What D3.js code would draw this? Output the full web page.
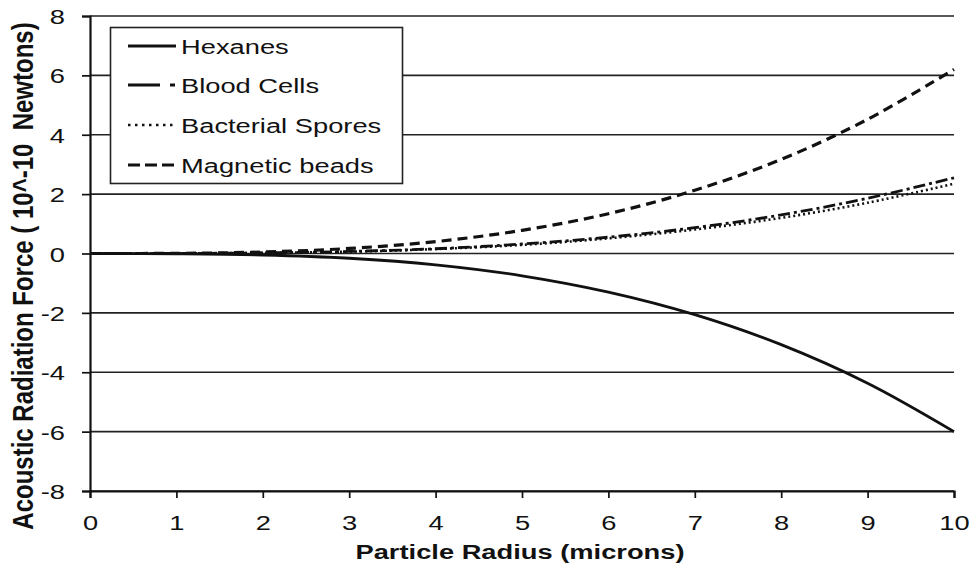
<!DOCTYPE html>
<html>
<head>
<meta charset="utf-8">
<script src="https://cdn.jsdelivr.net/npm/d3@7"></script>
<style>
  body { margin: 0; background: #fff; }
  text { font-family: "Liberation Sans", Arial, sans-serif; fill: #111; }
</style>
</head>
<body>
<script>
// particle radius (microns)
var radius = [0, 1, 2, 3, 4, 5, 6, 7, 8, 9, 10];
// force values, 10^-10 N
var hexanes = [0, -0.01, -0.05, -0.16, -0.38, -0.75, -1.30, -2.06, -3.07, -4.37, -6.0];
var bloodCells = [0, 0.003, 0.02, 0.07, 0.16, 0.32, 0.55, 0.87, 1.30, 1.86, 2.55];
var bacterialSpores = [0, 0.002, 0.02, 0.06, 0.15, 0.29, 0.51, 0.81, 1.20, 1.71, 2.35];
var magneticBeads = [0, 0.006, 0.05, 0.17, 0.40, 0.78, 1.34, 2.13, 3.17, 4.52, 6.2];
var xTicks = [0, 1, 2, 3, 4, 5, 6, 7, 8, 9, 10];
var yTicks = [-8, -6, -4, -2, 0, 2, 4, 6, 8];

var seriesNames = ['Hexanes', 'Blood Cells', 'Bacterial Spores', 'Magnetic beads'];
var seriesValues = [hexanes, bloodCells, bacterialSpores, magneticBeads];
var seriesDash = [null, '12,4,3,4', '2,3', '10,6'];
var legendDash = [null, '32,10,5,10', '2.5,4.5', '12,5'];
var seriesWidth = [2.8, 2.8, 2.6, 3.2];

// the source picture is stretched sideways, so text is widened too
var STRETCH = 1.3;

var svg;
var x, y;

window.document.addEventListener('DOMContentLoaded', init, false);

function init() {
    svg = d3.select('body').append('svg')
        .attr('width', 972)
        .attr('height', 569);

    x = d3.scaleLinear().domain([0, 10]).range([90, 954]);
    y = d3.scaleLinear().domain([-8, 8]).range([491, 16]);

    drawGrid();
    drawAxes();
    drawLines();
    drawLegend();
}

function drawGrid() {
    svg.append('g').selectAll('line')
        .data(yTicks)
        .enter().append('line')
        .attr('x1', x(0))
        .attr('x2', x(10))
        .attr('y1', function (d) { return y(d); })
        .attr('y2', function (d) { return y(d); })
        .attr('stroke', '#222')
        .attr('stroke-width', 1.7);
}

function drawAxes() {
    var yAxis = svg.append('g')
        .attr('transform', 'translate(' + x(0) + ',0)')
        .call(d3.axisLeft(y).tickValues(yTicks).tickSize(8).tickFormat(String));
    var xAxis = svg.append('g')
        .attr('transform', 'translate(0,' + y(-8) + ')')
        .call(d3.axisBottom(x).tickValues(xTicks).tickSize(7).tickFormat(String));

    [yAxis, xAxis].forEach(function (g) {
        g.select('.domain').attr('stroke', '#111').attr('stroke-width', 2.2);
        g.selectAll('.tick line').attr('stroke', '#111').attr('stroke-width', 1.7);
        g.selectAll('.tick text')
            .style('font-family', '"Liberation Sans", Arial, sans-serif')
            .style('font-size', '21px')
            .attr('fill', '#111');
    });

    yAxis.selectAll('.tick text')
        .attr('x', 0)
        .attr('dy', '0.36em')
        .attr('transform', 'translate(-25,0) scale(' + STRETCH + ',1)');
    xAxis.selectAll('.tick text')
        .attr('y', 0)
        .attr('dy', 0)
        .attr('transform', 'translate(0,39) scale(' + STRETCH + ',1)');

    svg.append('text')
        .attr('transform', 'translate(520,559) scale(' + STRETCH + ',1)')
        .attr('text-anchor', 'middle')
        .style('font-size', '21px')
        .style('font-weight', 'bold')
        .text('Particle Radius (microns)');

    svg.append('text')
        .attr('transform', 'translate(33,276) rotate(-90) scale(1,1.2)')
        .attr('text-anchor', 'middle')
        .style('font-size', '24px')
        .style('font-weight', 'bold')
        .style('white-space', 'pre')
        .text('Acoustic Radiation Force ( 10^-10  Newtons)');
}

function drawLines() {
    var line = d3.line()
        .x(function (d, i) { return x(radius[i]); })
        .y(function (d) { return y(d); })
        .curve(d3.curveCatmullRom);

    seriesValues.forEach(function (vals, k) {
        svg.append('path')
            .datum(vals)
            .attr('d', line)
            .attr('fill', 'none')
            .attr('stroke', '#111')
            .attr('stroke-width', seriesWidth[k])
            .attr('stroke-dasharray', seriesDash[k]);
    });
}

function drawLegend() {
    var g = svg.append('g');
    g.append('rect')
        .attr('x', 110.5)
        .attr('y', 27.5)
        .attr('width', 292)
        .attr('height', 156)
        .attr('fill', '#fff')
        .attr('stroke', '#222')
        .attr('stroke-width', 1.6);

    var rowY = [46, 85, 125, 165];
    seriesNames.forEach(function (name, k) {
        g.append('line')
            .attr('x1', 128)
            .attr('x2', 176)
            .attr('y1', rowY[k])
            .attr('y2', rowY[k])
            .attr('stroke', '#111')
            .attr('stroke-width', seriesWidth[k])
            .attr('stroke-dasharray', legendDash[k]);
        g.append('text')
            .attr('transform', 'translate(181,' + (rowY[k] + 7.5) + ') scale(' + STRETCH + ',1)')
            .style('font-size', '21px')
            .text(name);
    });
}
</script>
</body>
</html>
